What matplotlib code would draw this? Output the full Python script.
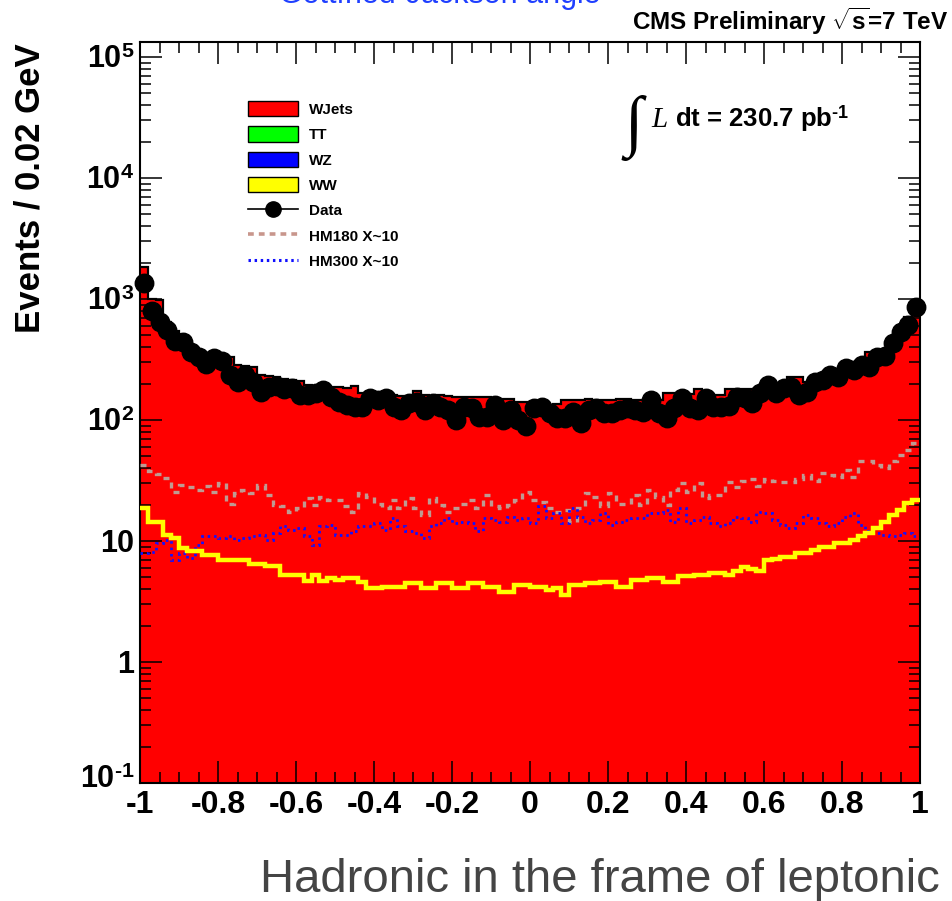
import numpy as np
import matplotlib
matplotlib.use('Agg')
import matplotlib.pyplot as plt
import matplotlib.transforms as mtransforms
from matplotlib.patches import Patch
from matplotlib.lines import Line2D
from matplotlib.ticker import FixedLocator, FixedFormatter, LogLocator, NullFormatter

plt.rcParams['font.family'] = ['Liberation Sans', 'DejaVu Sans']
plt.rcParams['mathtext.fontset'] = 'custom'
plt.rcParams['mathtext.rm'] = 'Liberation Sans:bold'
plt.rcParams['mathtext.bf'] = 'Liberation Sans:bold'
plt.rcParams['mathtext.it'] = 'Liberation Serif:italic'

# 100 bins of width 0.02 between -1 and 1
bin_edges = np.linspace(-1, 1, 101)

data_counts = [1350, 800, 640, 554, 447, 444, 367, 334, 288, 324,
               306, 235, 207, 235, 207, 171, 186, 191, 179, 183,
               161, 161, 166, 177, 155, 142, 133, 129, 129, 151,
               146, 151, 129, 121, 137, 142, 121, 137, 129, 121,
               100, 129, 125, 106, 106, 133, 100, 121, 100, 89,
               125, 129, 114, 103, 103, 117, 94, 121, 125, 114,
               114, 121, 125, 121, 117, 146, 114, 103, 125, 151,
               125, 121, 151, 129, 129, 131, 156, 151, 139, 166,
               195, 166, 183, 188, 161, 171, 207, 214, 235, 227,
               267, 258, 285, 276, 334, 340, 430, 537, 610, 863]

mc_total = [1840, 1000, 980, 640, 540, 470, 400, 380, 360, 350,
            340, 330, 285, 280, 275, 235, 230, 225, 220, 215,
            212, 195, 190, 190, 188, 186, 185, 192, 168, 165,
            163, 162, 160, 158, 157, 174, 160, 158, 160, 157,
            156, 155, 156, 154, 155, 153, 150, 148, 142, 140,
            138, 135, 133, 135, 145, 145, 146, 148, 147, 145,
            146, 148, 150, 147, 146, 148, 145, 166, 166, 165,
            164, 180, 160, 161, 162, 180, 181, 182, 180, 185,
            190, 200, 205, 227, 227, 205, 215, 225, 240, 255,
            270, 290, 310, 366, 370, 380, 385, 520, 710, 840]

ww = [18.6, 14.4, 14.4, 11.2, 10.5, 8.7, 8.2, 8.2, 7.7, 7.7,
      7.0, 7.0, 7.0, 7.0, 6.5, 6.5, 6.2, 6.2, 5.2, 5.2,
      5.2, 4.7, 5.2, 4.7, 4.9, 4.8, 4.9, 4.9, 4.6, 4.1,
      4.1, 4.2, 4.2, 4.2, 4.5, 4.5, 4.1, 4.1, 4.5, 4.5,
      4.1, 4.1, 4.5, 4.5, 4.2, 4.2, 3.8, 3.8, 4.3, 4.3,
      4.2, 4.2, 3.9, 4.1, 3.6, 4.3, 4.3, 4.5, 4.5, 4.6,
      4.6, 4.2, 4.2, 4.8, 4.8, 4.9, 4.9, 4.6, 4.6, 5.1,
      5.1, 5.2, 5.2, 5.4, 5.4, 5.2, 5.6, 6.1, 5.9, 5.6,
      7.0, 7.1, 7.4, 7.4, 7.9, 7.9, 8.4, 8.9, 8.9, 9.6,
      9.6, 10.2, 11.0, 11.6, 12.7, 14.4, 16.4, 18.0, 20.5, 22.0]

hm180 = [42.5, 38, 36, 33, 25.6, 29, 28, 26.5, 28.5, 25.6,
         30, 20.3, 24.7, 26.5, 24.7, 29, 24, 19.8, 19.3, 17.4,
         18.6, 22.6, 19.8, 23.2, 21.8, 21.8, 19.3, 17.4, 24.7, 23,
         20.3, 18.6, 21.8, 18.6, 22.6, 18.6, 16.4, 22.6, 19.8, 17.4,
         18.6, 20.3, 21.8, 18.6, 24, 19.3, 18.6, 19.8, 21.8, 25.6,
         21.8, 21, 18.6, 17.4, 18, 14.4, 18.6, 24.7, 23, 19.3,
         24.7, 20.3, 20.3, 24, 19.8, 26.5, 23, 19.8, 26.5, 30,
         25.6, 30, 22.6, 24, 24, 30.8, 28, 31.6, 32.5, 28.7,
         32.5, 31.6, 30.8, 30.8, 32.5, 35, 31.6, 36.3, 35, 34,
         38.8, 34, 45.4, 45.4, 42.5, 40, 45.4, 51.5, 56, 64]

hm300 = [7.9, 8.1, 9.6, 10.2, 7.0, 7.9, 7.2, 9.3, 10.9, 10.9,
         10.5, 10.9, 10.2, 10.5, 10.9, 11.2, 10.2, 11.6, 13.2, 12.3,
         12.7, 10.9, 9.3, 13.2, 13.5, 11.2, 11.2, 12.0, 13.2, 13.2,
         14.0, 12.3, 15.4, 13.2, 12.0, 11.6, 10.5, 13.2, 14.0, 15.4,
         14.0, 14.4, 14.0, 12.0, 15.4, 15.0, 14.4, 15.8, 15.0, 15.4,
         14.0, 19.3, 15.4, 16.9, 14.0, 18.6, 15.8, 14.0, 15.0, 16.9,
         13.5, 14.4, 15.0, 15.4, 15.4, 16.9, 16.9, 18.0, 14.4, 18.6,
         14.0, 15.0, 15.8, 14.0, 13.2, 14.0, 15.8, 15.4, 14.4, 17.4,
         16.9, 15.0, 13.5, 12.7, 14.0, 16.4, 15.4, 14.0, 13.2, 14.0,
         15.8, 16.9, 13.5, 12.0, 11.6, 11.2, 10.9, 11.2, 11.6, 10.9]

x_ticks = [-1, -0.8, -0.6, -0.4, -0.2, 0, 0.2, 0.4, 0.6, 0.8, 1]
x_tick_labels = ['-1', '-0.8', '-0.6', '-0.4', '-0.2', '0', '0.2', '0.4', '0.6', '0.8', '1']
y_ticks = [1e-1, 1, 10, 1e2, 1e3, 1e4, 1e5]
y_tick_labels = [r'$10^{\text{-}1}$', '1', '10', r'$10^{2}$', r'$10^{3}$', r'$10^{4}$', r'$10^{5}$']

W, H = 952, 901


def px(x, y):
    return x / W, 1 - y / H


fig = plt.figure(figsize=(W / 100, H / 100), dpi=100)
ax = fig.add_axes([140 / W, 1 - 783 / H, 780 / W, 741 / H])

centers = 0.5 * (bin_edges[:-1] + bin_edges[1:])

ax.stairs(mc_total, bin_edges, fill=True, color='#ff0000', baseline=1e-3, zorder=1)
ax.stairs(mc_total, bin_edges, color='black', lw=1.6, baseline=None, zorder=2)
ax.stairs(hm180, bin_edges, color='#bf9a92', lw=2.4, linestyle=(0, (1.8, 1.8)), baseline=None, zorder=3)
ax.stairs(hm300, bin_edges, color='#1010ff', lw=2.0, linestyle=(0, (0.9, 1.4)), baseline=None, zorder=3)
ax.stairs(ww, bin_edges, color='#ffff00', lw=3.2, baseline=None, zorder=4)
ax.plot(centers, data_counts, 'o', color='black', ms=13.3, clip_on=False, zorder=6)

ax.set_xlim(-1, 1)
ax.set_yscale('log')
ax.set_ylim(0.1, 1.33e5)

ax.xaxis.set_major_locator(FixedLocator(x_ticks))
ax.xaxis.set_major_formatter(FixedFormatter(x_tick_labels))
ax.xaxis.set_minor_locator(FixedLocator(np.arange(-1, 1.001, 0.05)))
ax.yaxis.set_major_locator(FixedLocator(y_ticks))
ax.yaxis.set_major_formatter(FixedFormatter(y_tick_labels))
ax.yaxis.set_minor_locator(LogLocator(base=10, subs=np.arange(2, 10), numticks=20))
ax.yaxis.set_minor_formatter(NullFormatter())

ax.tick_params(which='both', direction='in', top=True, right=True, width=1.1, color='black')
ax.tick_params(which='major', length=15.5)
ax.tick_params(which='minor', length=7.8)
ax.tick_params(axis='x', which='major', labelsize=23, pad=5)
ax.tick_params(axis='y', which='major', labelsize=22, pad=4)
for lab in ax.get_xticklabels() + ax.get_yticklabels():
    lab.set_fontweight('bold')
for sp in ax.spines.values():
    sp.set_linewidth(1.5)

# the 10^-1 label sits a little higher, clear of the -1 below it
low_lab = ax.yaxis.get_major_ticks()[0].label1
low_lab.set_transform(low_lab.get_transform()
                      + mtransforms.ScaledTranslation(0, 5 / 72, fig.dpi_scale_trans))

handles = [
    Patch(facecolor='#ff0000', edgecolor='black', lw=1.0),
    Patch(facecolor='#00ff00', edgecolor='black', lw=1.0),
    Patch(facecolor='#0000ff', edgecolor='black', lw=1.0),
    Patch(facecolor='#ffff00', edgecolor='black', lw=1.0),
    Line2D([], [], color='black', marker='o', ms=11, lw=1.2),
    Line2D([], [], color='#c8968c', lw=2.6, linestyle=(0, (1.6, 1.4))),
    Line2D([], [], color='#1010ff', lw=2.2, linestyle=(0, (0.8, 1.2))),
]
labels = ['WJets', 'TT', 'WZ', 'WW', 'Data', 'HM180 X~10', 'HM300 X~10']
ax.legend(handles, labels, loc='upper left', bbox_to_anchor=((248 - 140) / 780, (783 - 101) / 741),
          frameon=False, borderpad=0, borderaxespad=0,
          prop={'weight': 'bold', 'size': 11},
          handlelength=3.3, handleheight=1.15, labelspacing=0.63, handletextpad=0.7)

# y axis title
fig.text(*px(30, 188), 'Events / 0.02 GeV', rotation=90, ha='center', va='center',
         fontsize=25, fontweight='bold')

# luminosity label
fig.text(*px(634, 128), '\u222b', ha='center', va='center', fontsize=48,
         family='Liberation Serif', fontweight='bold')
fig.text(*px(651, 127), 'L', ha='left', va='baseline', fontsize=21,
         family='Liberation Serif', style='italic')
fig.text(*px(675, 127), r'dt = 230.7 pb$^{\text{-}1}$', ha='left', va='baseline',
         fontsize=18.5, fontweight='bold')

# header
fig.text(*px(948, 30), r'CMS Preliminary $\sqrt{\mathbf{s}}$=7 TeV', ha='right', va='baseline',
         fontsize=17.5, fontweight='bold')

# slide text around the plot, cut by the picture edge as in the original
fig.text(*px(279, 3), 'Gottfried-Jackson angle', ha='left', va='baseline',
         fontsize=22, color='#1f3fff')
fig.text(*px(940, 892), 'Hadronic in the frame of leptonic', ha='right', va='baseline',
         fontsize=34, color='#444444')

fig.savefig('out.png', dpi=100)
